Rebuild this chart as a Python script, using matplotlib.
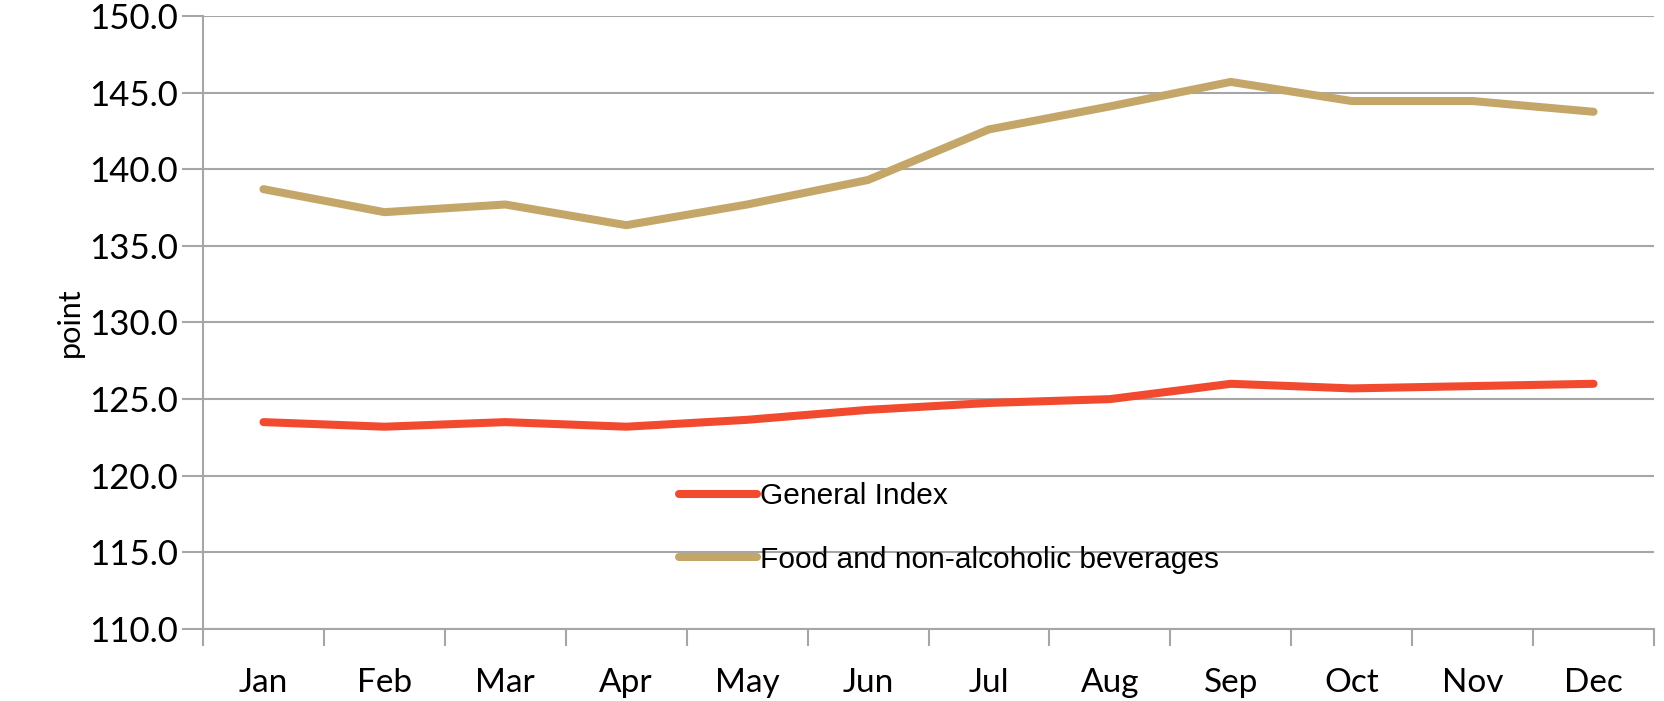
"""Monthly price index: general index vs. food and non-alcoholic beverages."""

import matplotlib
matplotlib.use('Agg')
import matplotlib.pyplot as plt

# Values
months = ['Jan', 'Feb', 'Mar', 'Apr', 'May', 'Jun', 'Jul', 'Aug', 'Sep', 'Oct', 'Nov', 'Dec']
general_index = [123.5, 123.2, 123.5, 123.2, 123.65, 124.3, 124.75, 125.0, 126.0, 125.7, 125.85, 126.0]
food_index = [138.7, 137.2, 137.7, 136.35, 137.7, 139.3, 142.6, 144.1, 145.7, 144.45, 144.45, 143.75]
y_ticks = [110, 115, 120, 125, 130, 135, 140, 145, 150]

grid_grey = '#a6a6a6'
red = '#f24a2f'
gold = '#c4a768'

fig = plt.figure(figsize=(16.64, 7.01), dpi=100)
ax = fig.add_axes([203 / 1664, 1 - 629 / 701, (1654 - 203) / 1664, (629 - 16) / 701])

x = list(range(len(months)))
ax.plot(x, general_index, color=red, linewidth=5.8, solid_capstyle='round', solid_joinstyle='round',
        label='General Index', zorder=3)
ax.plot(x, food_index, color=gold, linewidth=5.8, solid_capstyle='round', solid_joinstyle='round',
        label='Food and non-alcoholic beverages', zorder=3)

ax.set_xlim(-0.5, len(months) - 0.5)
ax.set_ylim(110, 150)

# y axis
ax.set_yticks(y_ticks)
ax.set_yticklabels([f'{v:.1f}' for v in y_ticks], fontfamily='Lato', fontsize=25)
ax.yaxis.grid(True, color=grid_grey, linewidth=1.5)
ax.tick_params(axis='y', length=15, width=1.5, color=grid_grey, pad=3)
ax.set_ylabel('point', fontfamily='Lato', fontsize=22, labelpad=4)

# x axis: labels at centres, tick marks on category boundaries
ax.set_xticks(x)
ax.set_xticklabels(months, fontfamily='Lato', fontsize=24)
ax.set_xticks([i - 0.5 for i in range(len(months) + 1)], minor=True)
ax.tick_params(axis='x', which='major', length=0, pad=28)
ax.tick_params(axis='x', which='minor', length=12, width=1.5, color=grid_grey)

for side in ['top', 'right']:
    ax.spines[side].set_visible(False)
for side in ['left', 'bottom']:
    ax.spines[side].set_color(grid_grey)
    ax.spines[side].set_linewidth(1.5)
ax.set_axisbelow(True)

leg = ax.legend(loc='upper left', bbox_to_anchor=(679 / 1664, 1 - 482 / 701),
                bbox_transform=fig.transFigure, frameon=False, borderpad=0, borderaxespad=0,
                handlelength=2.6, handletextpad=0.12, labelspacing=1.2,
                prop={'family': 'Liberation Sans', 'size': 21.5})

fig.savefig('out.png', dpi=100)
